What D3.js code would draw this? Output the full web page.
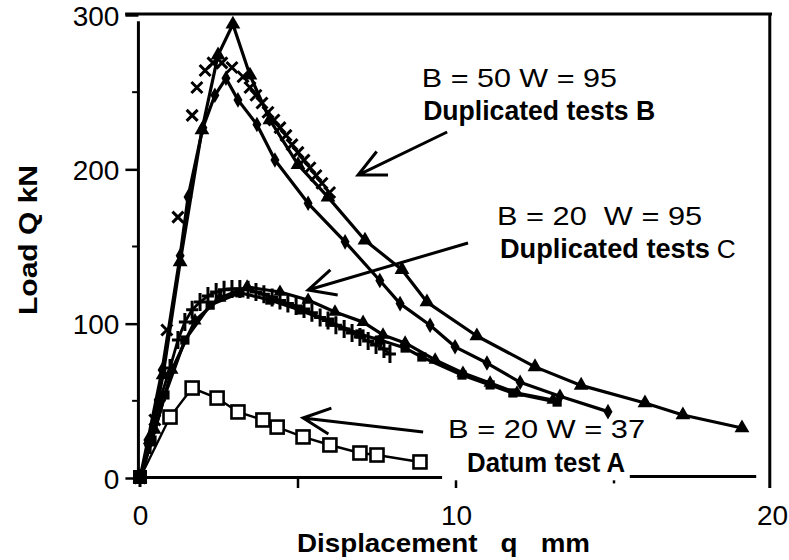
<!DOCTYPE html>
<meta charset="utf-8">
<script src="https://d3js.org/d3.v7.min.js"></script>
<style>
	body{
		margin:0;
		background:#fff;
		font-family:'Liberation Sans', Arial, sans-serif;
	}
</style>
<div id="chart"></div>
<script>

// test B, three duplicated tests (B = 50, W = 95)
var b1X = [0, 0.32, 0.73, 1.27, 1.96, 2.47, 2.94, 3.48, 4.11, 5.0, 5.95, 7.12, 8.29, 9.08, 10.66, 12.5, 13.96, 15.98, 17.18, 19.05]
var b1Y = [0, 24.6, 66.7, 140, 225.5, 274, 294, 261, 232, 203, 182, 154, 135, 114, 92, 72, 60, 48.6, 40.8, 32.4]

var b2X = [0, 0.25, 0.70, 1.27, 1.52, 1.99, 2.37, 2.72, 3.10, 3.70, 4.27, 5.32, 6.49, 7.59, 8.23, 9.18, 9.97, 10.98, 12.03, 13.29, 14.81]
var b2Y = [0, 24.6, 70, 144, 182, 227, 248, 259, 245, 229, 206, 178, 153, 128, 113, 99, 85, 74.5, 62, 53, 43]

var b3X = [0, 0.47, 0.85, 1.20, 1.65, 1.80, 2.06, 2.31, 2.59, 2.91, 3.26, 3.48, 3.67, 3.86, 4.05, 4.24, 4.43, 4.62, 4.81, 5.0, 5.19, 5.38, 5.57, 5.76, 6.0]
var b3Y = [0, 37.6, 95.9, 169, 235, 253, 264, 269, 269, 266, 260, 253, 248, 243, 237, 232, 227, 222, 216, 211, 206, 201, 196, 191, 185]

// test C, duplicated (B = 20, W = 95)
var c1X = [0, 0.32, 0.63, 0.95, 1.20, 1.42, 1.65, 1.90, 2.15, 2.41, 2.66, 2.91, 3.16, 3.42, 3.67, 3.92, 4.18, 4.43, 4.68, 4.94, 5.19, 5.44, 5.70, 5.95, 6.20, 6.46, 6.71, 6.96, 7.22, 7.47, 7.72, 7.91]
var c1Y = [0, 21.4, 50.5, 71.3, 89.4, 101, 109, 114, 118, 120.5, 122, 122.5, 122.5, 122, 120.5, 119, 117, 115, 113, 111.5, 109.5, 107, 104, 102, 99, 96.5, 94, 91.4, 88.8, 86.2, 83.6, 80.3]

var c2X = [0, 0.47, 1.01, 1.74, 2.53, 3.39, 4.43, 5.32, 6.17, 7.06, 7.69, 8.39, 9.34, 10.22, 11.08, 11.93, 13.07]
var c2Y = [0, 31.1, 70, 102, 116.6, 123.8, 120.5, 115.3, 107.6, 101, 92.7, 87.5, 76.5, 68, 61.6, 55.1, 50.5]

var c3X = [0, 0.38, 0.79, 1.42, 2.22, 3.16, 4.11, 5.06, 6.01, 6.96, 7.59, 8.39, 8.92, 10.19, 11.08, 11.80, 13.20]
var c3Y = [0, 24.6, 53.8, 89.4, 112, 120, 115.3, 108.9, 101, 93.3, 89.4, 84.2, 78.4, 66.7, 60.3, 55.1, 49.2]

// datum test A (B = 20, W = 37)
var aX = [0, 0.95, 1.65, 2.44, 3.10, 3.89, 4.34, 5.16, 6.01, 6.96, 7.5, 8.86]
var aY = [0, 39.5, 58.3, 51.8, 42.8, 37.6, 33, 26.6, 21.4, 16.2, 14.9, 10.4]

var xTicks = [0, 10, 20]
var xMinor = [5, 10, 15]
var yTicks = [0, 100, 200, 300]
var yMinor = [50, 150, 250]

// annotation texts and arrows, in data units
var labelText = ["B = 50 W = 95", "Duplicated tests B", "B = 20  W = 95", "Duplicated tests", "C", "B = 20 W = 37", "Datum test A"]
var labelBold = [false, true, false, true, false, false, true]
var labelX = [8.92, 8.96, 11.3, 11.39, 18.25, 9.75, 10.35]
var labelY = [253.4, 232, 164, 142.6, 142.6, 25.9, 3.9]
var arrowFromX = [9.72, 10.38, 8.96]
var arrowFromY = [224.2, 152.3, 29.8]
var arrowToX = [6.90, 5.32, 5.16]
var arrowToY = [196.3, 121.8, 38.9]

var w = 789
var h = 560

var x = d3.scaleLinear().domain([0, 20]).range([140, 772])
var y = d3.scaleLinear().domain([0, 300]).range([478, 15])

var svg = d3.select("#chart").append("svg")
	.attr("width", w)
	.attr("height", h)

function zip(xs, ys){
	return xs.map(function(v, i){ return [v, ys[i]] })
}

var line = d3.line()
	.x(function(d){ return x(d[0]) })
	.y(function(d){ return y(d[1]) })

// frame: top and right borders
svg.append("line").attr("x1", x(-0.47)).attr("x2", x(20)).attr("y1", y(300) - 1).attr("y2", y(300) - 1)
	.attr("stroke", "#000").attr("stroke-width", 3)
svg.append("line").attr("x1", x(19.93)).attr("x2", x(19.93)).attr("y1", y(300) - 2).attr("y2", y(-6.5))
	.attr("stroke", "#000").attr("stroke-width", 3)

// left axis
var yAxis = d3.axisLeft(y).tickValues(yTicks).tickSize(13).tickFormat(d3.format("d"))
var gy = svg.append("g").attr("transform", "translate(" + x(-0.05) + ",0)").call(yAxis)
gy.select(".domain").remove()
gy.selectAll(".tick line").attr("stroke-width", 2.5)
gy.selectAll(".tick text").attr("x", -19).attr("dy", "0.36em")
	.style("font-family", "'Liberation Sans', Arial, sans-serif").style("font-size", "28px").attr("fill", "#000")
svg.append("line").attr("x1", x(-0.05)).attr("x2", x(-0.05)).attr("y1", y(296)).attr("y2", y(0))
	.attr("stroke", "#000").attr("stroke-width", 3)
svg.append("g").selectAll("line").data(yMinor).join("line")
	.attr("x1", x(-0.25)).attr("x2", x(-0.05))
	.attr("y1", function(d){ return y(d) }).attr("y2", function(d){ return y(d) })
	.attr("stroke", "#000").attr("stroke-width", 2)

// bottom axis, broken as in the scan
var xAxis = d3.axisBottom(x).tickValues(xTicks).tickSize(0).tickFormat(d3.format("d"))
var gx = svg.append("g").attr("transform", "translate(0," + y(0) + ")").call(xAxis)
gx.select(".domain").remove()
gx.selectAll(".tick text").attr("y", 47).attr("dy", 0)
	.style("font-family", "'Liberation Sans', Arial, sans-serif").style("font-size", "28px").attr("fill", "#000")
var baseFrom = [-0.22, 15.5]
var baseTo = [9.56, 19.5]
svg.append("g").selectAll("line").data(baseFrom).join("line")
	.attr("x1", function(d){ return x(d) }).attr("x2", function(d, i){ return x(baseTo[i]) })
	.attr("y1", function(d, i){ return y(i * 0.7 + 0.3) }).attr("y2", function(d, i){ return y(i * 0.7 + 0.3) })
	.attr("stroke", "#000").attr("stroke-width", 3)
svg.append("g").selectAll("line").data(xMinor).join("line")
	.attr("x1", function(d){ return x(d) }).attr("x2", function(d){ return x(d) })
	.attr("y1", function(d){ return d == 5 ? y(0) : y(-1.5) })
	.attr("y2", function(d){ return d == 15 ? y(-3.5) : y(-6.5) })
	.attr("stroke", "#000").attr("stroke-width", 2.5)

// axis titles
svg.append("text").text("Displacement   q   mm")
	.attr("x", 297).attr("y", 552)
	.attr("textLength", 293).attr("lengthAdjust", "spacingAndGlyphs")
	.style("font-weight", "bold").style("font-size", "25px").style("white-space", "pre")
svg.append("text").text("Load Q kN")
	.attr("transform", "translate(37,240) rotate(-90)")
	.attr("text-anchor", "middle")
	.attr("textLength", 150).attr("lengthAdjust", "spacingAndGlyphs")
	.style("font-weight", "bold").style("font-size", "25px")

// series lines
var lineData = [zip(b1X, b1Y), zip(b2X, b2Y), zip(c2X, c2Y), zip(c3X, c3Y), zip(c1X, c1Y)]
var lineWidth = [3.2, 3.2, 3.2, 3.2, 2.8]
svg.append("g").selectAll("path").data(lineData).join("path")
	.attr("d", line)
	.attr("fill", "none")
	.attr("stroke", "#000")
	.attr("stroke-width", function(d, i){ return lineWidth[i] })
	.attr("stroke-linejoin", "round")

var marks = svg.append("g")

// filled markers
function filled(data, type, size){
	marks.append("g").selectAll("path").data(data).join("path")
		.attr("transform", function(d){ return "translate(" + x(d[0]) + "," + y(d[1]) + ")" })
		.attr("d", d3.symbol().type(type).size(size))
		.attr("fill", "#000")
}
filled(zip(b1X, b1Y), d3.symbolTriangle, 95)
filled(zip(b2X, b2Y), d3.symbolDiamond, 70)
filled(zip(c2X, c2Y), d3.symbolTriangle, 75)
filled(zip(c3X, c3Y), d3.symbolSquare, 85)

// crosses (x) for the third B test
marks.append("g").selectAll("path").data(zip(b3X, b3Y)).join("path")
	.attr("transform", function(d){ return "translate(" + x(d[0]) + "," + y(d[1]) + ")" })
	.attr("d", "M-5.5,-5.5L5.5,5.5M-5.5,5.5L5.5,-5.5")
	.attr("stroke", "#000").attr("stroke-width", 3).attr("fill", "none")

// plus marks for a C test
marks.append("g").selectAll("path").data(zip(c1X, c1Y)).join("path")
	.attr("transform", function(d){ return "translate(" + x(d[0]) + "," + y(d[1]) + ")" })
	.attr("d", "M-6,0L6,0M0,-9L0,9")
	.attr("stroke", "#000").attr("stroke-width", 3).attr("fill", "none")

// datum test A, open squares
svg.append("path").datum(zip(aX, aY))
	.attr("d", line).attr("fill", "none").attr("stroke", "#000").attr("stroke-width", 2.4)
svg.append("g").selectAll("rect").data(zip(aX, aY).slice(1)).join("rect")
	.attr("x", function(d){ return x(d[0]) - 6.5 }).attr("y", function(d){ return y(d[1]) - 6.5 })
	.attr("width", 13).attr("height", 13)
	.attr("fill", "#fff").attr("stroke", "#000").attr("stroke-width", 2.6)
svg.append("rect").attr("x", x(0) - 7).attr("y", y(0) - 8).attr("width", 14).attr("height", 14).attr("fill", "#000")

// arrows
for(var i in arrowFromX){
	var x1 = x(arrowFromX[i]), y1 = y(arrowFromY[i])
	var x2 = x(arrowToX[i]), y2 = y(arrowToY[i])
	var ang = Math.atan2(y1 - y2, x1 - x2)
	var len = 30, spread = 0.45
	svg.append("path")
		.attr("d", "M" + x1 + "," + y1 + "L" + x2 + "," + y2
			+ "M" + (x2 + len * Math.cos(ang - spread)) + "," + (y2 + len * Math.sin(ang - spread))
			+ "L" + x2 + "," + y2
			+ "L" + (x2 + len * Math.cos(ang + spread)) + "," + (y2 + len * Math.sin(ang + spread)))
		.attr("fill", "none").attr("stroke", "#000").attr("stroke-width", 3)
}

// annotation labels
var labelWidth = [195, 232, 205, 210, 19, 197, 158]
for(var j in labelText){
	svg.append("text")
		.attr("x", x(labelX[j])).attr("y", y(labelY[j]))
		.style("font-size", labelBold[j] ? "27px" : "26px")
		.style("font-weight", labelBold[j] ? "bold" : "normal")
		.style("white-space", "pre")
		.attr("textLength", labelWidth[j])
		.attr("lengthAdjust", "spacingAndGlyphs")
		.text(labelText[j])
}

</script>
